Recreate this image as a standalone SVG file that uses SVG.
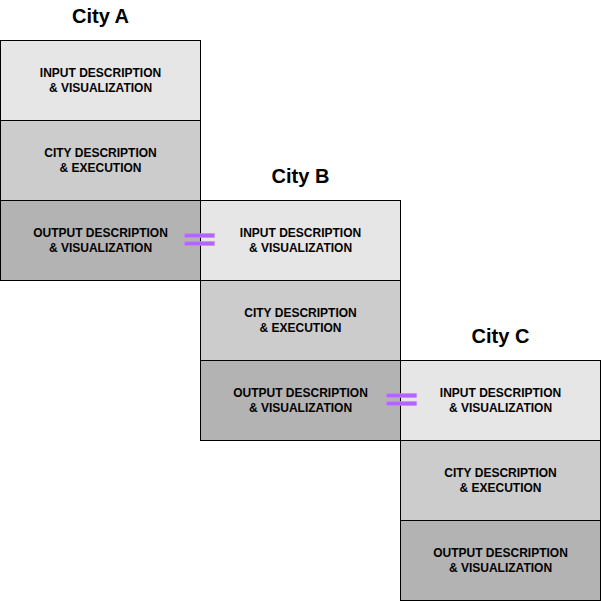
<svg xmlns="http://www.w3.org/2000/svg" width="601" height="601" viewBox="0 0 601 601">
<style>
.box{stroke:#000;stroke-width:1}
.in{fill:#E6E6E6}.mid{fill:#CCCCCC}.out{fill:#B3B3B3}
.t{font-family:"Liberation Sans",Arial,sans-serif;font-size:12px;font-weight:bold;fill:#000;text-anchor:middle}
.title{font-family:"Liberation Sans",Arial,sans-serif;font-size:20px;font-weight:bold;fill:#000;text-anchor:middle}
.eq{fill:#B266FF;stroke:#C28AFF;stroke-width:0.6}
</style>
<rect width="601" height="601" fill="#fff"/>
<g id="cityA">
<text class="title" x="100.5" y="23">City A</text>
<g id="A-input"><rect class="box in" x="0.5" y="40.5" width="200" height="80"/><text class="t" x="100.5" y="77">INPUT DESCRIPTION</text><text class="t" x="100.5" y="92">&amp; VISUALIZATION</text></g>
<g id="A-city"><rect class="box mid" x="0.5" y="120.5" width="200" height="80"/><text class="t" x="100.5" y="157">CITY DESCRIPTION</text><text class="t" x="100.5" y="172">&amp; EXECUTION</text></g>
<g id="A-output"><rect class="box out" x="0.5" y="200.5" width="200" height="80"/><text class="t" x="100.5" y="237">OUTPUT DESCRIPTION</text><text class="t" x="100.5" y="252">&amp; VISUALIZATION</text></g>
</g>
<g id="cityB">
<text class="title" x="300.5" y="183">City B</text>
<g id="B-input"><rect class="box in" x="200.5" y="200.5" width="200" height="80"/><text class="t" x="300.5" y="237">INPUT DESCRIPTION</text><text class="t" x="300.5" y="252">&amp; VISUALIZATION</text></g>
<g id="B-city"><rect class="box mid" x="200.5" y="280.5" width="200" height="80"/><text class="t" x="300.5" y="317">CITY DESCRIPTION</text><text class="t" x="300.5" y="332">&amp; EXECUTION</text></g>
<g id="B-output"><rect class="box out" x="200.5" y="360.5" width="200" height="80"/><text class="t" x="300.5" y="397">OUTPUT DESCRIPTION</text><text class="t" x="300.5" y="412">&amp; VISUALIZATION</text></g>
</g>
<g id="cityC">
<text class="title" x="500.5" y="343">City C</text>
<g id="C-input"><rect class="box in" x="400.5" y="360.5" width="200" height="80"/><text class="t" x="500.5" y="397">INPUT DESCRIPTION</text><text class="t" x="500.5" y="412">&amp; VISUALIZATION</text></g>
<g id="C-city"><rect class="box mid" x="400.5" y="440.5" width="200" height="80"/><text class="t" x="500.5" y="477">CITY DESCRIPTION</text><text class="t" x="500.5" y="492">&amp; EXECUTION</text></g>
<g id="C-output"><rect class="box out" x="400.5" y="520.5" width="200" height="80"/><text class="t" x="500.5" y="557">OUTPUT DESCRIPTION</text><text class="t" x="500.5" y="572">&amp; VISUALIZATION</text></g>
</g>
<g id="connectors">
<rect class="eq" x="184.5" y="233.5" width="30" height="4"/>
<rect class="eq" x="184.5" y="241.5" width="30" height="4"/>
<rect class="eq" x="386.5" y="393.5" width="30" height="4"/>
<rect class="eq" x="386.5" y="401.5" width="30" height="4"/>
</g>
</svg>
